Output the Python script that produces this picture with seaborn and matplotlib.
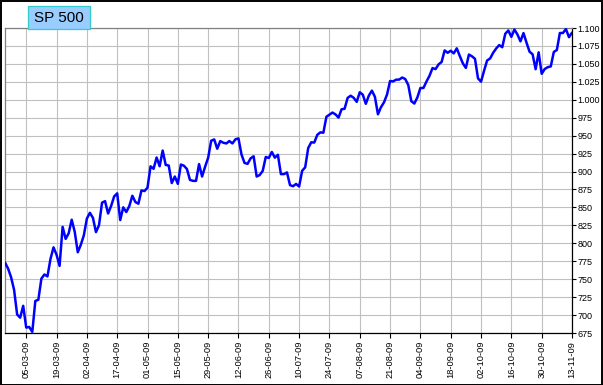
import matplotlib
matplotlib.use("Agg")
import matplotlib.pyplot as plt
from matplotlib.patches import Rectangle
from matplotlib.ticker import FixedLocator, FuncFormatter
import seaborn as sns
import pandas as pd

dates = [
    "24-02-09", "25-02-09", "26-02-09", "27-02-09",
    "02-03-09", "03-03-09", "04-03-09", "05-03-09", "06-03-09",
    "09-03-09", "10-03-09", "11-03-09", "12-03-09", "13-03-09",
    "16-03-09", "17-03-09", "18-03-09", "19-03-09", "20-03-09",
    "23-03-09", "24-03-09", "25-03-09", "26-03-09", "27-03-09",
    "30-03-09", "31-03-09", "01-04-09", "02-04-09", "03-04-09",
    "06-04-09", "07-04-09", "08-04-09", "09-04-09",
    "13-04-09", "14-04-09", "15-04-09", "16-04-09", "17-04-09",
    "20-04-09", "21-04-09", "22-04-09", "23-04-09", "24-04-09",
    "27-04-09", "28-04-09", "29-04-09", "30-04-09", "01-05-09",
    "04-05-09", "05-05-09", "06-05-09", "07-05-09", "08-05-09",
    "11-05-09", "12-05-09", "13-05-09", "14-05-09", "15-05-09",
    "18-05-09", "19-05-09", "20-05-09", "21-05-09", "22-05-09",
    "25-05-09", "26-05-09", "27-05-09", "28-05-09", "29-05-09",
    "01-06-09", "02-06-09", "03-06-09", "04-06-09", "05-06-09",
    "08-06-09", "09-06-09", "10-06-09", "11-06-09", "12-06-09",
    "15-06-09", "16-06-09", "17-06-09", "18-06-09", "19-06-09",
    "22-06-09", "23-06-09", "24-06-09", "25-06-09", "26-06-09",
    "29-06-09", "30-06-09", "01-07-09", "02-07-09", "03-07-09",
    "06-07-09", "07-07-09", "08-07-09", "09-07-09", "10-07-09",
    "13-07-09", "14-07-09", "15-07-09", "16-07-09", "17-07-09",
    "20-07-09", "21-07-09", "22-07-09", "23-07-09", "24-07-09",
    "27-07-09", "28-07-09", "29-07-09", "30-07-09", "31-07-09",
    "03-08-09", "04-08-09", "05-08-09", "06-08-09", "07-08-09",
    "10-08-09", "11-08-09", "12-08-09", "13-08-09", "14-08-09",
    "17-08-09", "18-08-09", "19-08-09", "20-08-09", "21-08-09",
    "24-08-09", "25-08-09", "26-08-09", "27-08-09", "28-08-09",
    "31-08-09", "01-09-09", "02-09-09", "03-09-09", "04-09-09",
    "07-09-09", "08-09-09", "09-09-09", "10-09-09", "11-09-09",
    "14-09-09", "15-09-09", "16-09-09", "17-09-09", "18-09-09",
    "21-09-09", "22-09-09", "23-09-09", "24-09-09", "25-09-09",
    "28-09-09", "29-09-09", "30-09-09", "01-10-09", "02-10-09",
    "05-10-09", "06-10-09", "07-10-09", "08-10-09", "09-10-09",
    "12-10-09", "13-10-09", "14-10-09", "15-10-09", "16-10-09",
    "19-10-09", "20-10-09", "21-10-09", "22-10-09", "23-10-09",
    "26-10-09", "27-10-09", "28-10-09", "29-10-09", "30-10-09",
    "02-11-09", "03-11-09", "04-11-09", "05-11-09", "06-11-09",
    "09-11-09", "10-11-09", "11-11-09", "12-11-09", "13-11-09",
]

closes = [
    773.14, 764.90, 752.83, 735.09,
    700.82, 696.33, 712.87, 682.55, 683.38,
    676.53, 719.60, 721.36, 750.74, 756.55,
    753.89, 778.12, 794.35, 784.04, 768.54,
    822.92, 806.12, 813.88, 832.86, 815.94,
    787.53, 797.87, 811.08, 834.38, 842.50,
    835.48, 815.55, 825.16, 856.56,
    858.73, 841.50, 852.06, 865.30, 869.60,
    832.39, 850.08, 843.55, 851.92, 866.23,
    857.51, 855.16, 873.64, 872.81, 877.52,
    907.24, 903.80, 919.53, 907.39, 929.23,
    909.24, 908.35, 883.92, 893.07, 882.88,
    909.71, 908.13, 903.47, 888.33, 887.00,
    887.00, 910.33, 893.06, 906.83, 919.14,
    942.87, 944.74, 931.76, 942.46, 940.09,
    939.14, 942.43, 939.15, 944.89, 946.21,
    923.72, 911.97, 910.71, 918.37, 921.23,
    893.04, 895.10, 900.94, 920.26, 918.90,
    927.23, 919.32, 923.33, 896.42, 896.42,
    898.72, 881.03, 879.56, 882.68, 879.13,
    901.05, 905.84, 932.68, 940.74, 940.38,
    951.13, 954.58, 954.07, 976.29, 979.26,
    982.18, 979.62, 975.15, 986.75, 987.48,
    1002.63, 1005.65, 1002.72, 997.08, 1010.48,
    1007.10, 994.35, 1005.81, 1012.73, 1004.09,
    979.73, 989.67, 996.46, 1007.37, 1026.13,
    1025.57, 1028.00, 1028.12, 1030.98, 1028.93,
    1020.62, 998.04, 994.75, 1003.24, 1016.40,
    1016.40, 1025.39, 1033.37, 1044.14, 1042.73,
    1049.34, 1052.63, 1068.76, 1065.49, 1068.30,
    1064.66, 1071.66, 1060.87, 1050.78, 1044.38,
    1062.98, 1060.61, 1057.08, 1029.85, 1025.21,
    1040.46, 1054.72, 1057.58, 1065.48, 1071.49,
    1076.19, 1073.19, 1092.02, 1096.56, 1087.68,
    1097.91, 1091.06, 1081.40, 1092.91, 1079.60,
    1066.95, 1063.41, 1042.63, 1066.11, 1036.19,
    1042.88, 1045.41, 1046.50, 1066.63, 1069.30,
    1093.08, 1093.01, 1098.51, 1087.24, 1093.48,
]

tick_labels = ["05-03-09", "19-03-09", "02-04-09", "17-04-09", "01-05-09",
               "15-05-09", "29-05-09", "12-06-09", "26-06-09", "10-07-09",
               "24-07-09", "07-08-09", "21-08-09", "04-09-09", "18-09-09",
               "02-10-09", "16-10-09", "30-10-09", "13-11-09"]
y_ticks = list(range(675, 1101, 25))
title = "SP 500"

sns.set_theme(style="white")
plt.rcParams["font.family"] = ["Liberation Sans", "DejaVu Sans"]

df = pd.DataFrame({"idx": range(len(closes)), "date": dates, "close": closes})

W, H = 603, 385
fig = plt.figure(figsize=(W / 100, H / 100), dpi=100)
fig.patch.set_facecolor("white")
ax = fig.add_axes([5 / W, 52 / H, 567 / W, 305 / H])
ax.set_facecolor("white")

sns.lineplot(data=df, x="idx", y="close", ax=ax, color="#0000FF",
             linewidth=1.8, zorder=3)

ax.set_xlim(0, len(closes) - 1)
ax.set_ylim(min(y_ticks), max(y_ticks))

xpos = [dates.index(t) for t in tick_labels]
ax.xaxis.set_major_locator(FixedLocator(xpos))
ax.set_xticklabels(tick_labels, rotation=90, fontsize=6.7, color="black")
ax.yaxis.set_major_locator(FixedLocator(y_ticks))
ax.yaxis.set_major_formatter(FuncFormatter(lambda v, p: f"{int(v):,}".replace(",", ".")))
ax.yaxis.tick_right()
ax.tick_params(axis="y", which="major", direction="out", length=2.6, width=0.8,
               color="black", pad=1.4, labelsize=6.5, labelcolor="black",
               right=True, left=False)
ax.tick_params(axis="x", which="major", direction="out", length=3.5, width=0.8,
               color="black", pad=2, labelcolor="black", bottom=True)

ax.grid(True, color="#C0C0C0", linewidth=0.8)
ax.set_axisbelow(True)
ax.set_xlabel("")
ax.set_ylabel("")

for side in ["top", "left"]:
    ax.spines[side].set_color("#808080")
    ax.spines[side].set_linewidth(0.9)
for side in ["bottom", "right"]:
    ax.spines[side].set_color("black")
    ax.spines[side].set_linewidth(0.9)

# title box
fig.patches.append(Rectangle((28 / W, 1 - 29 / H), 62 / W, 23 / H,
                             transform=fig.transFigure, facecolor="#99CCFF",
                             edgecolor="#33CCCC", linewidth=0.9, zorder=5))
fig.text(59 / W, 1 - 17.5 / H, title, ha="center", va="center",
         fontsize=11, color="black", zorder=6)

# outer frame
fig.patches.append(Rectangle((0.5 / W, 0.5 / H), (W - 1.5) / W, (H - 1.5) / H,
                             transform=fig.transFigure, fill=False,
                             edgecolor="black", linewidth=1.4, zorder=7))

fig.savefig("out.png", dpi=100)
